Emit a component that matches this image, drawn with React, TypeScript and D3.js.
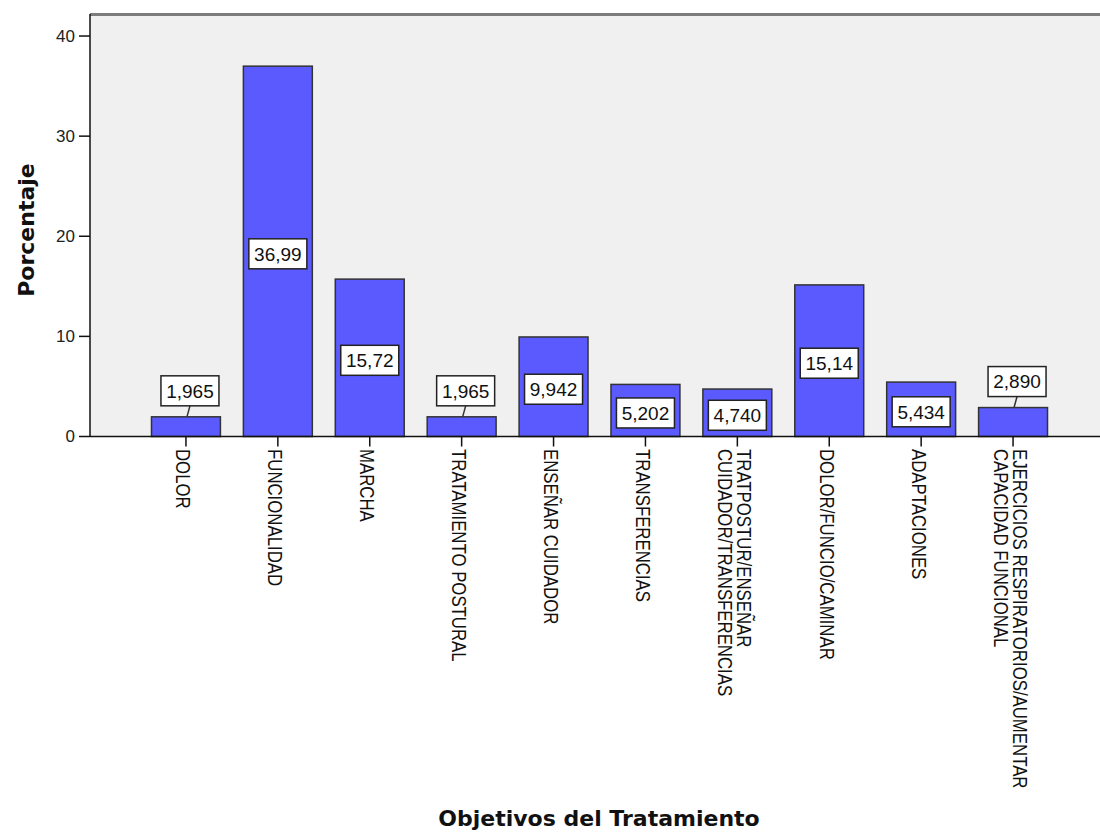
import * as d3 from "d3"

// categories: each entry is the lines of its axis label
const categories: string[][] = [
  ["DOLOR"],
  ["FUNCIONALIDAD"],
  ["MARCHA"],
  ["TRATAMIENTO POSTURAL"],
  ["ENSEÑAR CUIDADOR"],
  ["TRANSFERENCIAS"],
  ["TRATPOSTUR/ENSEÑAR", "CUIDADOR/TRANSFERENCIAS"],
  ["DOLOR/FUNCIO/CAMINAR"],
  ["ADAPTACIONES"],
  ["EJERCICIOS RESPIRATORIOS/AUMENTAR", "CAPACIDAD FUNCIONAL"],
]
const percentages = [1.965, 36.99, 15.72, 1.965, 9.942, 5.202, 4.74, 15.14, 5.434, 2.89]
const yTicks = [0, 10, 20, 30, 40]
const yMax = 42.2

const xTitle = "Objetivos del Tratamiento"
const yTitle = "Porcentaje"

const W = 1100
const H = 832
const plot = { left: 90, right: 1100, top: 14, bottom: 436.5 }

const esLocale = d3.formatLocale({ decimal: ",", thousands: ".", grouping: [3], currency: ["", ""] })
const fmt = esLocale.format(".4g")

export default function App() {
  const keys = categories.map((c) => c.join(" "))

  const x = d3.scaleBand<string>().domain(keys).range([140, 1059]).paddingInner(0.25).paddingOuter(0.125)
  const y = d3.scaleLinear().domain([0, yMax]).range([plot.bottom, plot.top])

  const boxW = 58
  const boxH = 30
  const capH = 15
  const lineH = 19

  return (
    <svg
      width={W}
      height={H}
      style={{ position: "absolute", left: 0, top: 0, background: "#fff" }}
      fontFamily="'Liberation Sans', Arial, sans-serif"
    >
      {/* plot background */}
      <rect x={plot.left} y={plot.top} width={plot.right - plot.left} height={plot.bottom - plot.top} fill="#f0f0f0" />
      <line x1={plot.left} x2={plot.right} y1={plot.top + 0.5} y2={plot.top + 0.5} stroke="#7c7c7c" strokeWidth={3} />

      {/* bars */}
      {percentages.map((v, i) => (
        <rect
          key={keys[i]}
          x={x(keys[i])}
          y={y(v)}
          width={x.bandwidth()}
          height={y(0) - y(v)}
          fill="#5a5aff"
          stroke="#333"
          strokeWidth={1.5}
        />
      ))}

      {/* axes */}
      <line x1={plot.left} x2={plot.left} y1={plot.top} y2={plot.bottom} stroke="#111" strokeWidth={1.5} />
      <line x1={plot.left} x2={plot.right} y1={plot.bottom} y2={plot.bottom} stroke="#111" strokeWidth={1.5} />

      {yTicks.map((t) => (
        <g key={t} transform={`translate(0,${y(t)})`}>
          <line x1={79} x2={plot.left} stroke="#111" strokeWidth={1.5} />
          <text x={75} dy="0.35em" textAnchor="end" fontSize={17} fill="#222">
            {t}
          </text>
        </g>
      ))}

      {keys.map((k, i) => {
        const cx = (x(k) ?? 0) + x.bandwidth() / 2
        const lines = categories[i]
        const n = lines.length
        return (
          <g key={k}>
            <line x1={cx} x2={cx} y1={plot.bottom} y2={plot.bottom + 10} stroke="#111" strokeWidth={1.5} />
            <g transform={`translate(${cx},449) rotate(90) scale(0.8,1)`}>
              {lines.map((ln, j) => (
                <text
                  key={j}
                  x={0}
                  y={2 + (capH + (n - 1) * lineH) / 2 - (n - 1 - j) * lineH}
                  fontSize={21}
                  fill="#111"
                >
                  {ln}
                </text>
              ))}
            </g>
          </g>
        )
      })}

      {/* value labels */}
      {percentages.map((v, i) => {
        const cx = (x(keys[i]) ?? 0) + x.bandwidth() / 2
        const barTop = y(v)
        const inside = y(0) - barTop > boxH + 12
        const bx = inside ? cx : cx + 4
        const by = inside ? (barTop + y(0)) / 2 + 2.5 : barTop - 11 - boxH / 2
        return (
          <g key={keys[i]}>
            {!inside && (
              <line x1={bx} x2={bx - 3} y1={by + boxH / 2} y2={barTop} stroke="#333" strokeWidth={1.5} />
            )}
            <rect
              x={bx - boxW / 2}
              y={by - boxH / 2}
              width={boxW}
              height={boxH}
              fill="#fff"
              stroke="#222"
              strokeWidth={1.5}
            />
            <text x={bx} y={by} dy="0.36em" textAnchor="middle" fontSize={19} fill="#111">
              {fmt(v)}
            </text>
          </g>
        )
      })}

      {/* titles */}
      <text
        transform={`translate(34,230) rotate(-90)`}
        textAnchor="middle"
        fontFamily="'DejaVu Sans', sans-serif"
        fontWeight="bold"
        fontSize={22}
        fill="#111"
      >
        {yTitle}
      </text>
      <text
        x={599}
        y={826}
        textAnchor="middle"
        fontFamily="'DejaVu Sans', sans-serif"
        fontWeight="bold"
        fontSize={22}
        fill="#111"
      >
        {xTitle}
      </text>
    </svg>
  )
}
